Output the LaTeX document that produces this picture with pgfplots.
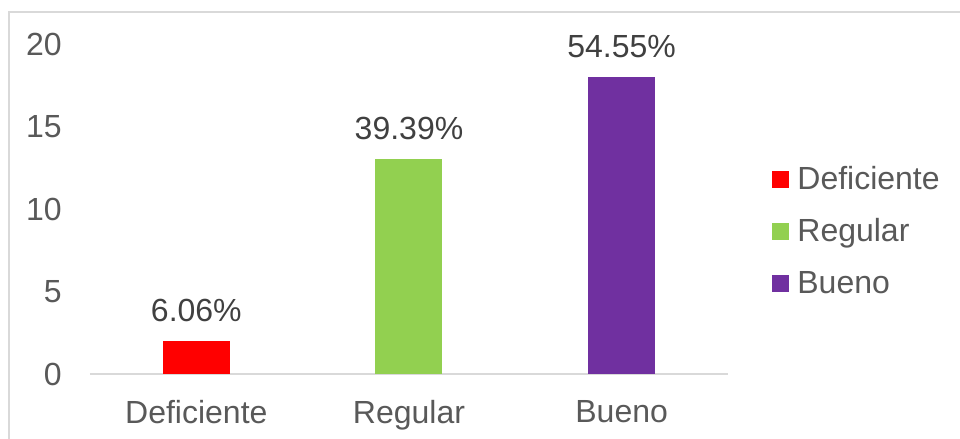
\documentclass[border=0pt]{standalone}
\usepackage{pgfplots}
\pgfplotsset{compat=1.18}
\usepackage{fontspec}
\setmainfont{Liberation Sans}
\definecolor{txt}{HTML}{595959}
\definecolor{lbl}{HTML}{404040}
\definecolor{axl}{HTML}{D9D9D9}
\definecolor{cR}{HTML}{FF0000}
\definecolor{cG}{HTML}{92D050}
\definecolor{cP}{HTML}{7030A0}
\begin{document}
\begin{tikzpicture}[font=\fontsize{16pt}{18pt}\selectfont]
\begin{axis}[
  at={(45pt,32.5pt)}, anchor=south west,
  scale only axis, width=319pt, height=165pt,
  xmin=-0.5, xmax=2.5, ymin=0, ymax=20,
  ytick={0,5,10,15,20},
  xtick={0,1,2}, xticklabels={Deficiente,Regular,Bueno},
  /pgf/number format/assume math mode=true,
  separate axis lines,
  axis x line*=bottom, axis y line*=left,
  x axis line style={axl, line width=1pt, -},
  y axis line style={draw=none},
  tick style={draw=none}, major tick length=0pt,
  ticklabel style={color=txt, font=\fontsize{16pt}{18pt}\selectfont},
  yticklabel style={anchor=east, inner sep=0pt, xshift=-14pt},
  xticklabel style={anchor=north, inner sep=0pt, yshift=-13pt},
  ybar, bar width=33.5pt, bar shift=0pt,
  nodes near coords, point meta=explicit symbolic,
  every node near coord/.append style={color=lbl, inner sep=0pt, yshift=9.5pt, font=\fontsize{16pt}{18pt}\selectfont},
  legend style={at={(1,0.433)}, anchor=west, xshift=22pt, draw=none, fill=none,
    inner sep=0pt, row sep=11.5pt, column sep=4pt,
    nodes={inner sep=0pt, text height=12.5pt, text depth=2pt, text=txt},
    font=\fontsize{16pt}{18pt}\selectfont},
  legend cell align=left,
  legend image code/.code={\fill[#1] (0pt,-4.25pt) rectangle (8.5pt,4.25pt);},
]
\addplot[fill=cR, draw=none] coordinates {(0,2) [6.06\%]};
\addlegendentry{Deficiente}
\addplot[fill=cG, draw=none] coordinates {(1,13) [39.39\%]};
\addlegendentry{Regular}
\addplot[fill=cP, draw=none] coordinates {(2,18) [54.55\%]};
\addlegendentry{Bueno}
\end{axis}
\draw[axl, line width=0.75pt] (4.5pt,0) -- (4.5pt,213.5pt) -- (480pt,213.5pt);
\pgfresetboundingbox
\useasboundingbox (0,0) rectangle (480pt,219.5pt);
\end{tikzpicture}
\end{document}
